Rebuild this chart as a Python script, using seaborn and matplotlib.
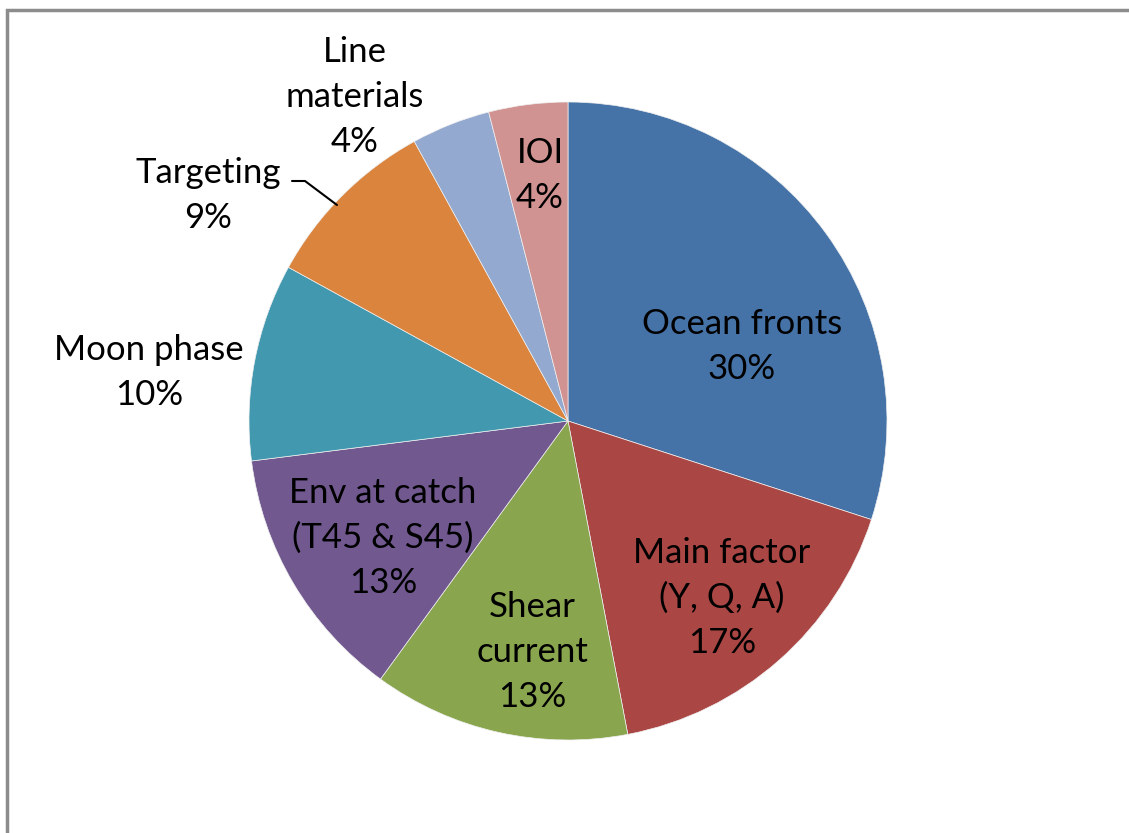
import matplotlib
matplotlib.use("Agg")
import matplotlib.pyplot as plt
from matplotlib.patches import Rectangle
import seaborn as sns

# Share of importance by factor (percent)
categories = ["Ocean fronts", "Main factor\n(Y, Q, A)", "Shear\ncurrent",
              "Env at catch\n(T45 & S45)", "Moon phase", "Targeting",
              "Line\nmaterials", "IOI"]
shares = [30, 17, 13, 13, 10, 9, 4, 4]
colors = ["#4673A7", "#AA4644", "#89A54E", "#71588F",
          "#4198AF", "#DB843D", "#93A9CF", "#D19392"]

sns.set_style("white")
plt.rcParams["font.family"] = ["Lato", "DejaVu Sans"]

W, H = 1129, 833
fig = plt.figure(figsize=(W / 100, H / 100), dpi=100)
ax = fig.add_axes([0, 0, 1, 1])

cx, cy, r = 568, H - 421, 319
wedges, _ = ax.pie(shares, colors=sns.color_palette(colors), startangle=90,
                   counterclock=False, radius=r, center=(cx, cy),
                   wedgeprops=dict(edgecolor="#f0f0f0", linewidth=0.5))
ax.set_xlim(0, W)
ax.set_ylim(0, H)
ax.set_aspect("equal")
ax.axis("off")

# Label anchors in pixel coordinates (from the top-left corner)
label_pos = [(742, 346), (722, 598), (532, 652), (383, 538),
             (149, 372), (208, 195), (355, 97), (540, 175)]
for name, val, (lx, ly) in zip(categories, shares, label_pos):
    ax.text(lx, H - ly, f"{name}\n{val}%", ha="center", va="center",
            fontsize=25, linespacing=1.5, color="black")

# Leader line for the Targeting label
ax.plot([292, 305, 337], [H - 181, H - 181, H - 205], color="black", lw=1.5)

# Chart-area frame
fig.patches.append(Rectangle((7 / W, -0.1), 1.2, (H - 10) / H + 0.1,
                             transform=fig.transFigure, fill=False,
                             edgecolor="#8c8c8c", linewidth=2.5))

fig.savefig("out.png", dpi=100)
